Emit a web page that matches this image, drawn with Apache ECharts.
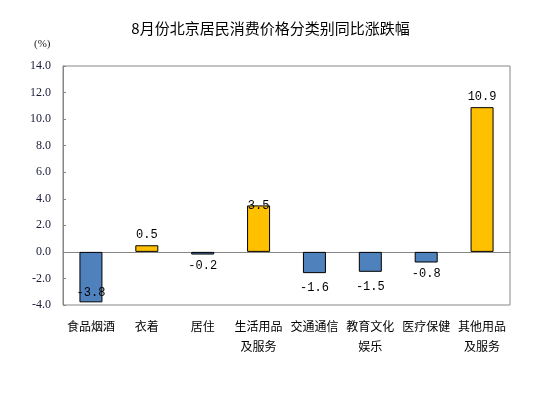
<!DOCTYPE html>
<html><head><meta charset="utf-8">
<script src="https://cdn.jsdelivr.net/npm/echarts@6/dist/echarts.min.js"></script>
<style>html,body{margin:0;padding:0;background:#fff}#c{width:541px;height:394px}</style>
</head><body><div id="c"></div>
<script>
var categories = ['食品烟酒','衣着','居住','生活用品\n及服务','交通通信','教育文化\n娱乐','医疗保健','其他用品\n及服务'];
var values = [-3.8, 0.5, -0.2, 3.5, -1.6, -1.5, -0.8, 10.9];
var yTicks = [-4, 14, 2];
var title = '8月份北京居民消费价格分类别同比涨跌幅';
var unit = '(%)';

var chart = echarts.init(document.getElementById('c'));
var data = values.map(function (v, i) {
  var lbl;
  if (i === 0) lbl = { position: 'insideBottom', distance: 4 };
  else if (v < 0) lbl = { position: 'bottom', distance: (v < -1 ? 9 : 5) };
  else if (v < 3) lbl = { position: 'top', distance: 4 };
  else if (v < 5) lbl = { position: 'top', distance: -6 };
  else lbl = { position: 'top', distance: 4 };
  return {
    value: v,
    itemStyle: { color: v < 0 ? '#4F81BD' : '#FFC000', borderColor: '#000', borderWidth: 1 },
    label: lbl
  };
});
chart.setOption({
  animation: false,
  title: { text: title, left: 'center', top: 16, textStyle: { fontFamily: 'Noto Sans CJK SC', fontSize: 15, fontWeight: 'normal', color: '#000' } },
  graphic: [{ type: 'text', left: 34, top: 39, style: { text: unit, font: '11px "Liberation Serif"', fill: '#222' } }],
  grid: { left: 63, top: 66, width: 447, height: 239, show: true, borderColor: '#868686', borderWidth: 1, containLabel: false },
  xAxis: [
    { type: 'category', data: categories, position: 'bottom',
      axisLine: { onZero: true, lineStyle: { color: '#868686' } },
      axisTick: { inside: true, length: 4, lineStyle: { color: '#868686' } },
      axisLabel: { show: false } },
    { type: 'category', data: categories, position: 'bottom',
      axisLine: { show: false, onZero: false }, axisTick: { show: false },
      axisLabel: { margin: 11, fontFamily: 'Noto Sans CJK SC', fontSize: 12, color: '#000', lineHeight: 20, interval: 0 } }
  ],
  yAxis: { type: 'value', min: yTicks[0], max: yTicks[1], interval: yTicks[2],
    axisLine: { show: true, lineStyle: { color: '#868686' } },
    axisTick: { show: true, inside: true, length: 3, lineStyle: { color: '#868686' } },
    splitLine: { show: false },
    axisLabel: { margin: 12, fontFamily: 'Liberation Serif', fontSize: 12, color: '#1a1a3a', formatter: function (v) { return v.toFixed(1); } } },
  series: [{ type: 'bar', xAxisIndex: 0, data: data, barWidth: 23,
    label: { show: true, fontFamily: 'Liberation Mono', fontSize: 12, color: '#000', formatter: function (p) { return p.value.toFixed(1); } } }]
});
</script></body></html>
